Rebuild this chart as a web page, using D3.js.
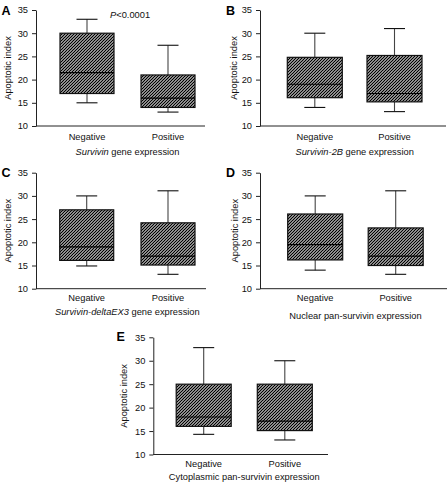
<!DOCTYPE html>
<html>
<head>
<meta charset="utf-8">
<script src="https://cdn.jsdelivr.net/npm/d3@7"></script>
<style>
  html, body { margin: 0; padding: 0; background: #fff; }
  svg { display: block; font-family: "Liberation Sans", Arial, sans-serif; }
</style>
</head>
<body>
<svg id="chart" width="448" height="483"></svg>
<script>
// ---- data ----
const categories = ["Negative", "Positive"];
const panelLetters = ["A", "B", "C", "D", "E"];
const titleItalic = ["Survivin", "Survivin-2B", "Survivin-deltaEX3", "", ""];
const titleRest = [" gene expression", " gene expression", " gene expression",
  "Nuclear pan-survivin expression", "Cytoplasmic pan-survivin expression"];
const whiskerLow  = [[15, 13],   [14, 13.1],   [14.9, 13.1], [14, 13.1],   [14.3, 13.1]];
const q1          = [[17, 14],   [16.1, 15.2], [16.1, 15.1], [16.2, 15],   [16, 15.1]];
const median      = [[21.5, 16], [19, 17],     [19, 17],     [19.5, 17],   [18, 17.1]];
const q3          = [[30, 21],   [24.8, 25.2], [27, 24.2],   [26.1, 23.1], [25, 25]];
const whiskerHigh = [[33, 27.4], [30, 31],     [30, 31.1],   [30, 31.1],   [32.8, 30]];
const yTicks = [10, 15, 20, 25, 30, 35];
const yDomain = [10, 35];
const pValueText = ["P", "<0.0001"];

// ---- layout (per panel) ----
const layout = [
  {x0: 36,    xEnd: 205, yTop: 10,    yBot: 126,   c: [87, 168],      bw: 54, lab: 13.5, tit: 28.5, yt: 28, letter: [1.5, 14.5]},
  {x0: 260,   xEnd: 446, yTop: 10,    yBot: 126,   c: [314.8, 394.5], bw: 55, lab: 13.5, tit: 28.5, yt: 26, letter: [226, 14.5]},
  {x0: 36,    xEnd: 206, yTop: 172.7, yBot: 288.7, c: [86.7, 168],    bw: 54, lab: 12.5, tit: 26,   yt: 28.5, letter: [1.5, 176.5]},
  {x0: 260,   xEnd: 447, yTop: 172.7, yBot: 288.7, c: [315.2, 395.7], bw: 55, lab: 12.5, tit: 30,   yt: 25, letter: [226, 177]},
  {x0: 153.3, xEnd: 328, yTop: 337.3, yBot: 454.5, c: [203.7, 284.8], bw: 55, lab: 12.5, tit: 25,   yt: 30, letter: [116.5, 341]}
];

const svg = d3.select("#chart");
const defs = svg.append("defs");
const pat = defs.append("pattern")
  .attr("id", "hatch")
  .attr("patternUnits", "userSpaceOnUse")
  .attr("width", 3).attr("height", 3);
pat.append("rect").attr("width", 3).attr("height", 3).attr("fill", "#fff");
pat.append("path")
  .attr("d", "M-1,1 L1,-1 M0,3 L3,0 M2,4 L4,2")
  .attr("stroke", "#000").attr("stroke-width", 1.3);

const FS = 9.3;

layout.forEach((L, i) => {
  const g = svg.append("g");
  const y = d3.scaleLinear().domain(yDomain).range([L.yBot, L.yTop]);
  const x = d3.scalePoint().domain(categories).range(L.c);

  // y axis
  const ya = g.append("g")
    .attr("transform", `translate(${L.x0},0)`)
    .call(d3.axisLeft(y).tickValues(yTicks).tickSize(4).tickSizeOuter(0).tickPadding(4));
  ya.select(".domain").attr("stroke", "#222");
  ya.selectAll(".tick line").attr("stroke", "#222");
  ya.selectAll(".tick text").attr("font-size", FS).attr("fill", "#111")
    .attr("font-family", "Liberation Sans, Arial, sans-serif");

  // x axis line
  g.append("line")
    .attr("x1", L.x0).attr("x2", L.xEnd)
    .attr("y1", L.yBot).attr("y2", L.yBot)
    .attr("stroke", "#222").attr("stroke-width", 1);

  // boxes
  categories.forEach((cat, j) => {
    const cx = x(cat);
    const bg = g.append("g");
    bg.append("line")
      .attr("x1", cx).attr("x2", cx)
      .attr("y1", y(whiskerHigh[i][j])).attr("y2", y(q3[i][j]))
      .attr("stroke", "#444").attr("stroke-width", 1.1);
    bg.append("line")
      .attr("x1", cx).attr("x2", cx)
      .attr("y1", y(q1[i][j])).attr("y2", y(whiskerLow[i][j]))
      .attr("stroke", "#444").attr("stroke-width", 1.1);
    [whiskerHigh[i][j], whiskerLow[i][j]].forEach(v => {
      bg.append("line")
        .attr("x1", cx - 10.5).attr("x2", cx + 10.5)
        .attr("y1", y(v)).attr("y2", y(v))
        .attr("stroke", "#111").attr("stroke-width", 1.1);
    });
    bg.append("rect")
      .attr("x", cx - L.bw / 2).attr("width", L.bw)
      .attr("y", y(q3[i][j])).attr("height", y(q1[i][j]) - y(q3[i][j]))
      .attr("fill", "url(#hatch)")
      .attr("stroke", "#111").attr("stroke-width", 1.2);
    bg.append("line")
      .attr("x1", cx - L.bw / 2).attr("x2", cx + L.bw / 2)
      .attr("y1", y(median[i][j])).attr("y2", y(median[i][j]))
      .attr("stroke", "#000").attr("stroke-width", 1.2);
    g.append("text")
      .attr("x", cx).attr("y", L.yBot + L.lab)
      .attr("text-anchor", "middle")
      .attr("font-size", FS).attr("fill", "#111")
      .text(cat);
  });

  const t = g.append("text")
    .attr("x", (L.c[0] + L.c[1]) / 2).attr("y", L.yBot + L.tit)
    .attr("text-anchor", "middle")
    .attr("font-size", FS).attr("fill", "#111");
  if (titleItalic[i]) t.append("tspan").attr("font-style", "italic").text(titleItalic[i]);
  t.append("tspan").text(titleRest[i]);

  g.append("text")
    .attr("transform", `translate(${L.x0 - L.yt + 3.3},${(L.yTop + L.yBot) / 2}) rotate(-90)`)
    .attr("text-anchor", "middle")
    .attr("font-size", FS).attr("fill", "#111")
    .text("Apoptotic index");

  g.append("text")
    .attr("x", L.letter[0]).attr("y", L.letter[1])
    .attr("font-size", 12.5).attr("font-weight", "bold").attr("fill", "#000")
    .text(panelLetters[i]);

  if (i === 0) {
    const p = g.append("text")
      .attr("x", 110).attr("y", 18.3)
      .attr("font-size", FS).attr("fill", "#111");
    p.append("tspan").attr("font-style", "italic").text(pValueText[0]);
    p.append("tspan").text(pValueText[1]);
  }
});
</script>
</body>
</html>
